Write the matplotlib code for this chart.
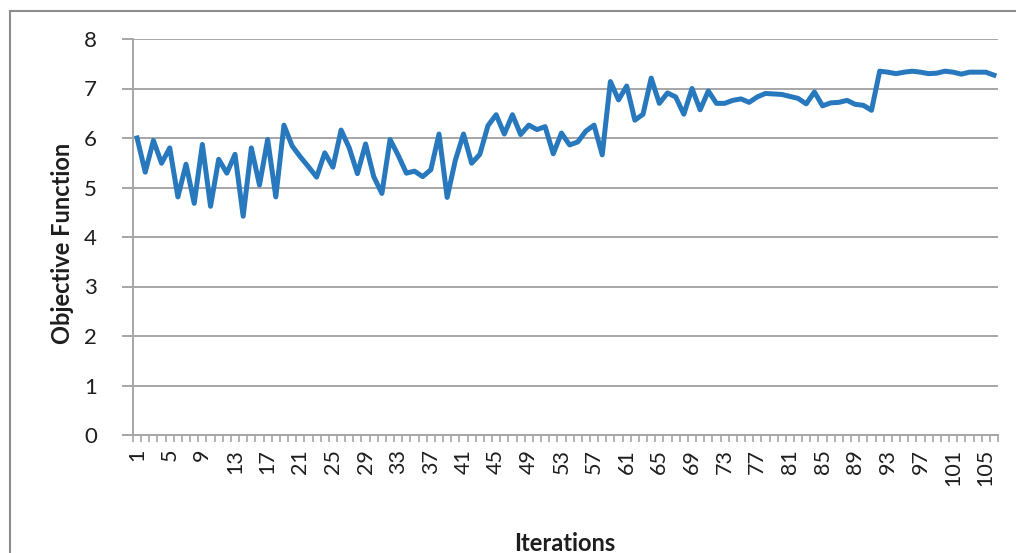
import matplotlib
matplotlib.use("Agg")
import matplotlib.pyplot as plt
from matplotlib.lines import Line2D
from matplotlib.ticker import FixedLocator, NullFormatter

plt.rcParams['font.family'] = ['Lato', 'DejaVu Sans']

iterations = list(range(1, 107))
objective = [
    6.00, 5.31, 5.95, 5.49, 5.80, 4.81, 5.47, 4.68, 5.87, 4.62,
    5.57, 5.29, 5.67, 4.42, 5.80, 5.05, 5.97, 4.81, 6.26, 5.84,
    5.62, 5.42, 5.21, 5.70, 5.41, 6.16, 5.80, 5.28, 5.88, 5.22,
    4.88, 5.97, 5.65, 5.29, 5.33, 5.22, 5.36, 6.08, 4.80, 5.55,
    6.08, 5.49, 5.67, 6.25, 6.47, 6.08, 6.47, 6.07, 6.26, 6.17,
    6.23, 5.68, 6.10, 5.86, 5.92, 6.14, 6.26, 5.66, 7.14, 6.77,
    7.05, 6.36, 6.48, 7.21, 6.70, 6.91, 6.83, 6.48, 7.00, 6.57,
    6.95, 6.70, 6.70, 6.76, 6.79, 6.72, 6.83, 6.90, 6.89, 6.88,
    6.84, 6.80, 6.69, 6.93, 6.65, 6.71, 6.72, 6.76, 6.68, 6.66,
    6.56, 7.35, 7.33, 7.30, 7.33, 7.35, 7.33, 7.30, 7.31, 7.35,
    7.33, 7.29, 7.33, 7.33, 7.33, 7.27,
]
x_tick_labels = [str(i) for i in range(1, 107, 4)]
y_ticks = [0, 1, 2, 3, 4, 5, 6, 7, 8]

W, H = 1016, 553
fig = plt.figure(figsize=(W / 100, H / 100), dpi=100)
ax = fig.add_axes([133 / W, 1 - 435 / H, (998 - 133) / W, (435 - 39) / H])

grid_c = '#a6a6a6'
text_c = '#1e1e1e'

ax.plot(iterations, objective, color='#2878be', linewidth=3.6,
        solid_joinstyle='round', zorder=3)

ax.set_xlim(0.5, 106.5)
ax.set_ylim(0, 8)

ax.set_yticks(y_ticks)
ax.set_yticklabels([str(v) for v in y_ticks])
ax.yaxis.grid(True, color=grid_c, linewidth=1.4)
ax.set_axisbelow(True)

major_x = list(range(1, 107, 4))
ax.set_xticks(major_x)
ax.set_xticklabels(x_tick_labels, rotation=90, va='top', ha='center')
ax.xaxis.set_minor_locator(FixedLocator([k + 0.5 for k in range(0, 107)]))
ax.xaxis.set_minor_formatter(NullFormatter())
ax.tick_params(axis='x', which='major', length=0, pad=10,
               labelsize=15.5, labelcolor=text_c)
ax.tick_params(axis='x', which='minor', length=5, width=1.2,
               color=grid_c, direction='out')
ax.tick_params(axis='y', which='major', length=8, width=1.4,
               color=grid_c, pad=18, labelsize=16, labelcolor=text_c)

for s in ['top', 'right']:
    ax.spines[s].set_visible(False)
for s in ['left', 'bottom']:
    ax.spines[s].set_color(grid_c)
    ax.spines[s].set_linewidth(1.4)

fig.text(565 / W, 2 / H, 'Iterations', ha='center', va='baseline',
         fontsize=17, fontweight='bold', color=text_c)
fig.text(63 / W, 1 - 243 / H, 'Objective Function', ha='center', va='center',
         rotation=90, fontsize=17, fontweight='bold', color=text_c)

# chart-area frame (only left and top edges visible)
fig.add_artist(Line2D([10 / W, 10 / W], [0, 1 - 10.5 / H],
                      transform=fig.transFigure, color='#8c8c8c', linewidth=1.5))
fig.add_artist(Line2D([10 / W, 1], [1 - 10.5 / H, 1 - 10.5 / H],
                      transform=fig.transFigure, color='#8c8c8c', linewidth=1.5))

fig.savefig('out.png', dpi=100, facecolor='white')
